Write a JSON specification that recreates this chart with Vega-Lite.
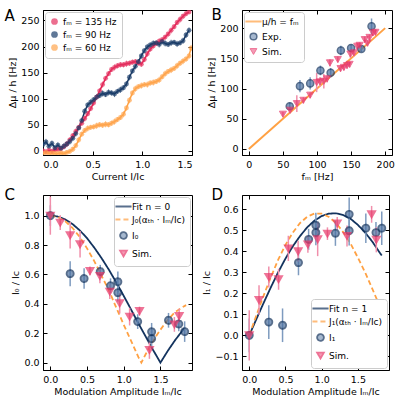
{
"$schema": "https://vega.github.io/schema/vega-lite/v6.json",
"background": "white",
"padding": {"left": 3, "top": 7, "right": 0, "bottom": 0},
"columns": 2,
"align": "each",
"spacing": {"row": 40, "column": 50},
"bounds": "flush",
"resolve": {"scale": {"x": "independent", "y": "independent", "color": "independent", "fill": "independent", "stroke": "independent", "shape": "independent", "strokeDash": "independent", "strokeWidth": "independent"}},
"config": {
  "font": "DejaVu Sans",
  "view": {"stroke": "#000", "strokeWidth": 1},
  "axis": {"grid": false, "domainColor": "#000", "tickColor": "#000", "labelColor": "#000", "titleColor": "#000", "labelFont": "DejaVu Sans", "titleFont": "DejaVu Sans", "labelFontSize": 9.5, "titleFontSize": 9.5, "titleFontWeight": "normal", "tickSize": -4, "labelPadding": 8, "titlePadding": 3, "domainWidth": 1, "tickWidth": 1},
  "legend": {"labelFont": "DejaVu Sans", "labelFontSize": 9, "labelColor": "#000", "fillColor": "#ffffff", "strokeColor": "#cccccc", "cornerRadius": 3, "padding": 5, "rowPadding": 3, "symbolSize": 45, "symbolStrokeWidth": 1}
},
"datasets": {
  "a": [
    {"s":"r","x":0,"y":0,"e":5},{"s":"r","x":0.03,"y":-2,"e":5},{"s":"r","x":0.06,"y":1,"e":4},{"s":"r","x":0.09,"y":-1,"e":5},{"s":"r","x":0.12,"y":2,"e":5},{"s":"r","x":0.15,"y":3,"e":4},{"s":"r","x":0.18,"y":4,"e":5},{"s":"r","x":0.21,"y":8,"e":5},{"s":"r","x":0.24,"y":13,"e":6},{"s":"r","x":0.27,"y":21,"e":5},{"s":"r","x":0.3,"y":29,"e":5},{"s":"r","x":0.33,"y":37,"e":6},{"s":"r","x":0.36,"y":45,"e":5},{"s":"r","x":0.39,"y":53,"e":5},{"s":"r","x":0.42,"y":62,"e":6},{"s":"r","x":0.45,"y":71,"e":5},{"s":"r","x":0.48,"y":81,"e":5},{"s":"r","x":0.51,"y":92,"e":6},{"s":"r","x":0.54,"y":103,"e":5},{"s":"r","x":0.57,"y":115,"e":5},{"s":"r","x":0.6,"y":127,"e":6},{"s":"r","x":0.63,"y":139,"e":5},{"s":"r","x":0.66,"y":148,"e":5},{"s":"r","x":0.69,"y":156,"e":5},{"s":"r","x":0.72,"y":160,"e":6},{"s":"r","x":0.75,"y":163,"e":5},{"s":"r","x":0.78,"y":165,"e":5},{"s":"r","x":0.81,"y":165,"e":5},{"s":"r","x":0.84,"y":167,"e":6},{"s":"r","x":0.87,"y":168,"e":5},{"s":"r","x":0.9,"y":170,"e":5},{"s":"r","x":0.93,"y":171,"e":5},{"s":"r","x":0.96,"y":169,"e":6},{"s":"r","x":0.99,"y":166,"e":5},{"s":"r","x":1.02,"y":175,"e":5},{"s":"r","x":1.05,"y":186,"e":6},{"s":"r","x":1.08,"y":195,"e":5},{"s":"r","x":1.11,"y":201,"e":5},{"s":"r","x":1.14,"y":206,"e":5},{"s":"r","x":1.17,"y":210,"e":6},{"s":"r","x":1.2,"y":213,"e":5},{"s":"r","x":1.23,"y":218,"e":5},{"s":"r","x":1.26,"y":224,"e":5},{"s":"r","x":1.29,"y":231,"e":6},{"s":"r","x":1.32,"y":238,"e":5},{"s":"r","x":1.35,"y":246,"e":5},{"s":"r","x":1.38,"y":252,"e":6},{"s":"r","x":1.41,"y":258,"e":5},{"s":"r","x":1.44,"y":263,"e":5},{"s":"r","x":1.47,"y":266,"e":3},
    {"s":"b","x":0,"y":12,"e":6},{"s":"b","x":0.03,"y":17,"e":6},{"s":"b","x":0.06,"y":9,"e":5},{"s":"b","x":0.09,"y":14,"e":6},{"s":"b","x":0.12,"y":6,"e":5},{"s":"b","x":0.15,"y":11,"e":6},{"s":"b","x":0.18,"y":5,"e":5},{"s":"b","x":0.21,"y":9,"e":6},{"s":"b","x":0.24,"y":13,"e":5},{"s":"b","x":0.27,"y":18,"e":6},{"s":"b","x":0.3,"y":24,"e":5},{"s":"b","x":0.33,"y":33,"e":6},{"s":"b","x":0.36,"y":44,"e":5},{"s":"b","x":0.39,"y":58,"e":6},{"s":"b","x":0.42,"y":76,"e":6},{"s":"b","x":0.45,"y":88,"e":5},{"s":"b","x":0.48,"y":93,"e":6},{"s":"b","x":0.51,"y":98,"e":5},{"s":"b","x":0.54,"y":103,"e":6},{"s":"b","x":0.57,"y":106,"e":5},{"s":"b","x":0.6,"y":110,"e":6},{"s":"b","x":0.63,"y":108,"e":5},{"s":"b","x":0.66,"y":112,"e":6},{"s":"b","x":0.69,"y":111,"e":5},{"s":"b","x":0.72,"y":109,"e":6},{"s":"b","x":0.75,"y":114,"e":5},{"s":"b","x":0.78,"y":117,"e":6},{"s":"b","x":0.81,"y":121,"e":5},{"s":"b","x":0.84,"y":128,"e":6},{"s":"b","x":0.87,"y":141,"e":6},{"s":"b","x":0.9,"y":153,"e":5},{"s":"b","x":0.93,"y":162,"e":6},{"s":"b","x":0.96,"y":171,"e":5},{"s":"b","x":0.99,"y":182,"e":6},{"s":"b","x":1.02,"y":192,"e":5},{"s":"b","x":1.05,"y":199,"e":6},{"s":"b","x":1.08,"y":203,"e":5},{"s":"b","x":1.11,"y":206,"e":6},{"s":"b","x":1.14,"y":207,"e":5},{"s":"b","x":1.17,"y":204,"e":6},{"s":"b","x":1.2,"y":209,"e":5},{"s":"b","x":1.23,"y":206,"e":6},{"s":"b","x":1.26,"y":204,"e":5},{"s":"b","x":1.29,"y":207,"e":6},{"s":"b","x":1.32,"y":208,"e":5},{"s":"b","x":1.35,"y":205,"e":6},{"s":"b","x":1.38,"y":207,"e":5},{"s":"b","x":1.41,"y":211,"e":6},{"s":"b","x":1.44,"y":222,"e":6},{"s":"b","x":1.47,"y":231,"e":6},
    {"s":"o","x":0,"y":-5,"e":2},{"s":"o","x":0.03,"y":-3,"e":3},{"s":"o","x":0.06,"y":-5,"e":2},{"s":"o","x":0.09,"y":-4,"e":3},{"s":"o","x":0.12,"y":-5,"e":2},{"s":"o","x":0.15,"y":-5,"e":2},{"s":"o","x":0.18,"y":-4,"e":3},{"s":"o","x":0.21,"y":-5,"e":2},{"s":"o","x":0.24,"y":-3,"e":4},{"s":"o","x":0.27,"y":-1,"e":5},{"s":"o","x":0.3,"y":3,"e":5},{"s":"o","x":0.33,"y":10,"e":5},{"s":"o","x":0.36,"y":21,"e":6},{"s":"o","x":0.39,"y":32,"e":5},{"s":"o","x":0.42,"y":39,"e":5},{"s":"o","x":0.45,"y":43,"e":6},{"s":"o","x":0.48,"y":45,"e":5},{"s":"o","x":0.51,"y":46,"e":5},{"s":"o","x":0.54,"y":48,"e":6},{"s":"o","x":0.57,"y":50,"e":5},{"s":"o","x":0.6,"y":49,"e":5},{"s":"o","x":0.63,"y":51,"e":6},{"s":"o","x":0.66,"y":50,"e":5},{"s":"o","x":0.69,"y":53,"e":5},{"s":"o","x":0.72,"y":56,"e":6},{"s":"o","x":0.75,"y":60,"e":5},{"s":"o","x":0.78,"y":64,"e":5},{"s":"o","x":0.81,"y":70,"e":6},{"s":"o","x":0.84,"y":82,"e":5},{"s":"o","x":0.87,"y":97,"e":6},{"s":"o","x":0.9,"y":111,"e":5},{"s":"o","x":0.93,"y":119,"e":6},{"s":"o","x":0.96,"y":123,"e":5},{"s":"o","x":0.99,"y":125,"e":6},{"s":"o","x":1.02,"y":127,"e":5},{"s":"o","x":1.05,"y":127,"e":6},{"s":"o","x":1.08,"y":130,"e":5},{"s":"o","x":1.11,"y":131,"e":6},{"s":"o","x":1.14,"y":133,"e":5},{"s":"o","x":1.17,"y":136,"e":6},{"s":"o","x":1.2,"y":142,"e":5},{"s":"o","x":1.23,"y":148,"e":6},{"s":"o","x":1.26,"y":152,"e":5},{"s":"o","x":1.29,"y":155,"e":6},{"s":"o","x":1.32,"y":158,"e":5},{"s":"o","x":1.35,"y":163,"e":6},{"s":"o","x":1.38,"y":168,"e":5},{"s":"o","x":1.41,"y":172,"e":6},{"s":"o","x":1.44,"y":176,"e":5},{"s":"o","x":1.47,"y":182,"e":6},{"s":"o","x":1.49,"y":197,"e":6}
  ],
  "bl": [{"s":"l","x":0,"y":0},{"s":"l","x":200,"y":200}],
  "b": [
    {"s":"e","x":60,"y":70.7,"e":6},{"s":"e","x":75,"y":104,"e":10},{"s":"e","x":90,"y":108.5,"e":10},{"s":"e","x":105,"y":130,"e":8},{"s":"e","x":120,"y":126,"e":8},{"s":"e","x":135,"y":163,"e":8},{"s":"e","x":150,"y":167,"e":6},{"s":"e","x":165,"y":165.5,"e":5},{"s":"e","x":180,"y":203,"e":13},
    {"s":"s","x":50,"y":57.5,"e":4},{"s":"s","x":60.6,"y":64,"e":5},{"s":"s","x":70.4,"y":75,"e":14},{"s":"s","x":80,"y":80.5,"e":5},{"s":"s","x":90,"y":89,"e":5},{"s":"s","x":99.5,"y":110,"e":16},{"s":"s","x":104.4,"y":111,"e":8},{"s":"s","x":110,"y":112,"e":12},{"s":"s","x":114.8,"y":116,"e":6},{"s":"s","x":119,"y":142.5,"e":6},{"s":"s","x":130.5,"y":148,"e":5},{"s":"s","x":134.5,"y":133,"e":5},{"s":"s","x":139.4,"y":135,"e":5},{"s":"s","x":144,"y":138,"e":5},{"s":"s","x":147.8,"y":140,"e":5},{"s":"s","x":149,"y":157,"e":6},{"s":"s","x":154,"y":159,"e":6},{"s":"s","x":159,"y":170,"e":5},{"s":"s","x":162.5,"y":171.5,"e":5},{"s":"s","x":170,"y":181,"e":5},{"s":"s","x":174,"y":175,"e":5},{"s":"s","x":177,"y":184.6,"e":5},{"s":"s","x":182,"y":192,"e":5},{"s":"s","x":185.7,"y":193,"e":5}
  ],
  "cl": [
    {"s":"f","x":0,"y":1},{"s":"f","x":0.1,"y":0.9936},{"s":"f","x":0.2,"y":0.9746},{"s":"f","x":0.3,"y":0.9432},{"s":"f","x":0.4,"y":0.9},{"s":"f","x":0.5,"y":0.8463},{"s":"f","x":0.6,"y":0.781},{"s":"f","x":0.7,"y":0.709},{"s":"f","x":0.8,"y":0.63},{"s":"f","x":0.9,"y":0.544},{"s":"f","x":1.0,"y":0.4537},{"s":"f","x":1.1,"y":0.361},{"s":"f","x":1.2,"y":0.267},{"s":"f","x":1.3,"y":0.177},{"s":"f","x":1.4,"y":0.086},{"s":"f","x":1.5,"y":0},{"s":"f","x":1.6,"y":0.08},{"s":"f","x":1.7,"y":0.153},{"s":"f","x":1.8,"y":0.218},{"s":"f","x":1.83,"y":0.236},
    {"s":"j","x":0,"y":1},{"s":"j","x":0.1,"y":0.9906},{"s":"j","x":0.2,"y":0.9627},{"s":"j","x":0.3,"y":0.917},{"s":"j","x":0.4,"y":0.855},{"s":"j","x":0.5,"y":0.777},{"s":"j","x":0.6,"y":0.689},{"s":"j","x":0.7,"y":0.589},{"s":"j","x":0.8,"y":0.489},{"s":"j","x":0.9,"y":0.372},{"s":"j","x":1.0,"y":0.258},{"s":"j","x":1.1,"y":0.148},{"s":"j","x":1.2,"y":0.037},{"s":"j","x":1.24,"y":0},{"s":"j","x":1.3,"y":0.059},{"s":"j","x":1.4,"y":0.149},{"s":"j","x":1.5,"y":0.224},{"s":"j","x":1.6,"y":0.292},{"s":"j","x":1.7,"y":0.344},{"s":"j","x":1.8,"y":0.377},{"s":"j","x":1.85,"y":0.391}
  ],
  "c": [
    {"s":"e","x":0,"y":1.0,"e":0.07},{"s":"e","x":0.27,"y":0.605,"e":0.085},{"s":"e","x":0.46,"y":0.572,"e":0.07},{"s":"e","x":0.68,"y":0.62,"e":0.045},{"s":"e","x":0.82,"y":0.523,"e":0.05},{"s":"e","x":0.92,"y":0.55,"e":0.07},{"s":"e","x":0.92,"y":0.476,"e":0.06},{"s":"e","x":1.19,"y":0.279,"e":0.05},{"s":"e","x":1.38,"y":0.21,"e":0.06},{"s":"e","x":1.38,"y":0.163,"e":0.06},{"s":"e","x":1.61,"y":0.288,"e":0.05},{"s":"e","x":1.75,"y":0.263,"e":0.05},{"s":"e","x":1.83,"y":0.211,"e":0.07},
    {"s":"s","x":0,"y":1.0,"e":0.13},{"s":"s","x":0.135,"y":0.952,"e":0.05},{"s":"s","x":0.27,"y":0.866,"e":0.09},{"s":"s","x":0.405,"y":0.805,"e":0.09},{"s":"s","x":0.54,"y":0.624,"e":0.03},{"s":"s","x":0.675,"y":0.59,"e":0.05},{"s":"s","x":0.81,"y":0.483,"e":0.05},{"s":"s","x":0.945,"y":0.404,"e":0.07},{"s":"s","x":1.08,"y":0.313,"e":0.06},{"s":"s","x":1.215,"y":0.351,"e":0.03},{"s":"s","x":1.35,"y":0.086,"e":0.06},{"s":"s","x":1.69,"y":0.26,"e":0.05},{"s":"s","x":1.755,"y":0.317,"e":0.05}
  ],
  "dl": [
    {"s":"f","x":0,"y":0},{"s":"f","x":0.1,"y":0.0785},{"s":"f","x":0.2,"y":0.1554},{"s":"f","x":0.3,"y":0.23},{"s":"f","x":0.4,"y":0.3006},{"s":"f","x":0.5,"y":0.365},{"s":"f","x":0.6,"y":0.423},{"s":"f","x":0.7,"y":0.472},{"s":"f","x":0.8,"y":0.514},{"s":"f","x":0.9,"y":0.546},{"s":"f","x":1.0,"y":0.5677},{"s":"f","x":1.1,"y":0.5795},{"s":"f","x":1.2,"y":0.5807},{"s":"f","x":1.3,"y":0.572},{"s":"f","x":1.4,"y":0.5545},{"s":"f","x":1.5,"y":0.526},{"s":"f","x":1.6,"y":0.4895},{"s":"f","x":1.7,"y":0.4458},{"s":"f","x":1.8,"y":0.3945},{"s":"f","x":1.83,"y":0.38},
    {"s":"j","x":0,"y":0},{"s":"j","x":0.1,"y":0.0965},{"s":"j","x":0.2,"y":0.1903},{"s":"j","x":0.3,"y":0.2785},{"s":"j","x":0.4,"y":0.36},{"s":"j","x":0.5,"y":0.4302},{"s":"j","x":0.6,"y":0.4883},{"s":"j","x":0.7,"y":0.534},{"s":"j","x":0.8,"y":0.5643},{"s":"j","x":0.9,"y":0.5795},{"s":"j","x":1.0,"y":0.5798},{"s":"j","x":1.1,"y":0.5638},{"s":"j","x":1.2,"y":0.534},{"s":"j","x":1.3,"y":0.4905},{"s":"j","x":1.4,"y":0.436},{"s":"j","x":1.5,"y":0.37},{"s":"j","x":1.6,"y":0.3},{"s":"j","x":1.7,"y":0.221},{"s":"j","x":1.8,"y":0.141},{"s":"j","x":1.83,"y":0.12}
  ],
  "d": [
    {"s":"e","x":0,"y":0.0,"e":0.08},{"s":"e","x":0.27,"y":0.063,"e":0.08},{"s":"e","x":0.46,"y":0.048,"e":0.08},{"s":"e","x":0.68,"y":0.346,"e":0.06},{"s":"e","x":0.82,"y":0.457,"e":0.05},{"s":"e","x":0.92,"y":0.489,"e":0.06},{"s":"e","x":0.92,"y":0.524,"e":0.06},{"s":"e","x":1.19,"y":0.486,"e":0.06},{"s":"e","x":1.38,"y":0.576,"e":0.08},{"s":"e","x":1.38,"y":0.498,"e":0.07},{"s":"e","x":1.61,"y":0.51,"e":0.07},{"s":"e","x":1.75,"y":0.489,"e":0.05},{"s":"e","x":1.83,"y":0.51,"e":0.08},
    {"s":"s","x":0,"y":0.0,"e":0.12},{"s":"s","x":0.135,"y":0.168,"e":0.07},{"s":"s","x":0.27,"y":0.278,"e":0.05},{"s":"s","x":0.405,"y":0.267,"e":0.05},{"s":"s","x":0.54,"y":0.414,"e":0.06},{"s":"s","x":0.675,"y":0.4,"e":0.05},{"s":"s","x":0.81,"y":0.433,"e":0.04},{"s":"s","x":0.945,"y":0.457,"e":0.08},{"s":"s","x":1.08,"y":0.484,"e":0.03},{"s":"s","x":1.215,"y":0.533,"e":0.03},{"s":"s","x":1.35,"y":0.473,"e":0.05},{"s":"s","x":1.69,"y":0.576,"e":0.04},{"s":"s","x":1.755,"y":0.455,"e":0.06}
  ]
},
"concat": [
  {
    "width": 149, "height": 145,
    "resolve": {"axis": {"x": "independent", "y": "independent"}},
    "layer": [
      {"data": {"name": "a"}, "mark": {"type": "line", "strokeWidth": 1.5, "clip": true},
       "encoding": {
         "x": {"field": "x", "type": "quantitative", "scale": {"domain": [0, 1.5], "nice": false, "zero": false}, "axis": {"values": [0, 0.5, 1, 1.5], "format": ".1f", "title": "Current I/Ic"}},
         "y": {"field": "y", "type": "quantitative", "scale": {"domain": [-8, 270], "nice": false, "zero": false}, "axis": {"values": [0, 50, 100, 150, 200, 250], "title": "Δμ / h [Hz]"}},
         "stroke": {"field": "s", "type": "nominal", "scale": {"domain": ["r", "b", "o", "zz"], "range": ["#e01e50", "#14345f", "#ffa040", "#000000"]}, "legend": null}}},
      {"data": {"name": "a"}, "mark": {"type": "errorbar", "thickness": 1, "opacity": 0.6, "clip": true},
       "encoding": {
         "x": {"field": "x", "type": "quantitative", "axis": null},
         "y": {"field": "y", "type": "quantitative", "axis": null},
         "yError": {"field": "e"},
         "color": {"field": "s", "type": "nominal", "scale": {"domain": ["r", "b", "o", "yy"], "range": ["#e4305f", "#1d3e6b", "#ffa54f", "#000000"]}, "legend": null}}},
      {"data": {"name": "a"}, "mark": {"type": "point", "filled": true, "size": 24, "opacity": 0.7, "clip": true},
       "encoding": {
         "x": {"field": "x", "type": "quantitative", "axis": null},
         "y": {"field": "y", "type": "quantitative", "axis": null},
         "fill": {"field": "s", "type": "nominal", "scale": {"domain": ["r", "b", "o"], "range": ["#e4305f", "#1d3e6b", "#ffa54f"]},
           "legend": {"title": null, "orient": "top-left", "offset": 2, "symbolType": "circle", "labelExpr": "datum.value == 'r' ? 'fₘ = 135 Hz' : datum.value == 'b' ? 'fₘ = 90 Hz' : 'fₘ = 60 Hz'"}}}},
      {"data": {"name": "bl"}, "mark": {"type": "point", "opacity": 0},
       "encoding": {
         "x": {"field": "x", "type": "quantitative", "axis": {"orient": "top", "labels": false, "domain": false, "values": [0, 0.5, 1, 1.5], "title": "A", "titleX": -39, "titleY": 10.3, "titleAlign": "left", "titleAnchor": null, "titleBaseline": "alphabetic", "titleFontSize": 15, "titleAngle": 0}},
         "y": {"field": "y", "type": "quantitative", "axis": {"orient": "right", "labels": false, "title": null, "domain": false, "values": [0, 50, 100, 150, 200, 250]}}}}
    ]
  },
  {
    "width": 150, "height": 145,
    "resolve": {"axis": {"x": "independent", "y": "independent"}},
    "layer": [
      {"data": {"name": "bl"}, "mark": {"type": "line", "strokeWidth": 2},
       "encoding": {
         "x": {"field": "x", "type": "quantitative", "scale": {"domain": [-10, 210], "nice": false, "zero": false}, "axis": {"values": [0, 50, 100, 150, 200], "title": "fₘ [Hz]"}},
         "y": {"field": "y", "type": "quantitative", "scale": {"domain": [-10, 230], "nice": false, "zero": false}, "axis": {"values": [0, 50, 100, 150, 200], "title": "Δμ / h [Hz]"}},
         "stroke": {"field": "s", "type": "nominal", "scale": {"domain": ["l", "e", "s"], "range": ["#ffa143", "#12325c", "#e8386a"]}}}},
      {"data": {"name": "b"}, "mark": {"type": "errorbar", "thickness": 1.5},
       "encoding": {
         "x": {"field": "x", "type": "quantitative", "axis": null},
         "y": {"field": "y", "type": "quantitative", "axis": null},
         "yError": {"field": "e"},
         "color": {"field": "s", "type": "nominal", "scale": {"domain": ["e", "s"], "range": ["#7e9bbf", "#f08fab"]}, "legend": null}}},
      {"data": {"name": "b"}, "mark": {"type": "point", "filled": true, "size": 50},
       "encoding": {
         "x": {"field": "x", "type": "quantitative", "axis": null},
         "y": {"field": "y", "type": "quantitative", "axis": null},
         "shape": {"field": "s", "type": "nominal", "scale": {"domain": ["l", "e", "s"], "range": ["M-2.4,0L2.4,0", "circle", "triangle-down"]},
           "legend": {"title": null, "orient": "top-left", "offset": 2, "labelExpr": "datum.value == 'l' ? 'μ/h = fₘ' : datum.value == 'e' ? 'Exp.' : 'Sim.'"}},
         "fill": {"field": "s", "type": "nominal", "scale": {"domain": ["l", "e", "s"], "range": ["#ffa143", "#4b70a0", "#e8386a"]},
           "legend": {"title": null, "orient": "top-left", "offset": 2, "labelExpr": "datum.value == 'l' ? 'μ/h = fₘ' : datum.value == 'e' ? 'Exp.' : 'Sim.'"}},
         "stroke": {"field": "s", "type": "nominal",
           "legend": {"title": null, "orient": "top-left", "offset": 2, "labelExpr": "datum.value == 'l' ? 'μ/h = fₘ' : datum.value == 'e' ? 'Exp.' : 'Sim.'"}},
         "strokeWidth": {"field": "s", "type": "nominal", "scale": {"domain": ["l", "e", "s"], "range": [2, 1, 1]},
           "legend": {"title": null, "orient": "top-left", "offset": 2, "labelExpr": "datum.value == 'l' ? 'μ/h = fₘ' : datum.value == 'e' ? 'Exp.' : 'Sim.'"}}}},
      {"data": {"name": "bl"}, "mark": {"type": "point", "opacity": 0},
       "encoding": {
         "x": {"field": "x", "type": "quantitative", "axis": {"orient": "top", "labels": false, "domain": false, "values": [0, 50, 100, 150, 200], "title": "B", "titleX": -31, "titleY": 9.5, "titleAlign": "left", "titleAnchor": null, "titleBaseline": "alphabetic", "titleFontSize": 15, "titleAngle": 0}},
         "y": {"field": "y", "type": "quantitative", "axis": {"orient": "right", "labels": false, "title": null, "domain": false, "values": [0, 50, 100, 150, 200]}}}}
    ]
  },
  {
    "width": 149, "height": 175,
    "resolve": {"axis": {"x": "independent", "y": "independent"}},
    "layer": [
      {"data": {"name": "cl"}, "mark": {"type": "line"},
       "encoding": {
         "x": {"field": "x", "type": "quantitative", "scale": {"domain": [-0.1, 1.93], "nice": false, "zero": false}, "axis": {"values": [0, 0.5, 1, 1.5], "format": ".1f", "title": "Modulation Amplitude Iₘ/Ic"}},
         "y": {"field": "y", "type": "quantitative", "scale": {"domain": [-0.05, 1.14], "nice": false, "zero": false}, "axis": {"values": [0, 0.2, 0.4, 0.6, 0.8, 1], "format": ".1f", "title": "I₀ / Ic"}},
         "stroke": {"field": "s", "type": "nominal", "scale": {"domain": ["f", "j", "e", "s"], "range": ["#13335e", "#ffa143", "#12325c", "#e8386a"]}},
         "strokeDash": {"field": "s", "type": "nominal", "scale": {"domain": ["f", "j", "e", "s"], "range": [[1, 0], [5, 3], [1, 0], [1, 0]]}},
         "strokeWidth": {"field": "s", "type": "nominal", "scale": {"domain": ["f", "j", "e", "s"], "range": [1.8, 1.8, 1, 1]}}}},
      {"data": {"name": "c"}, "mark": {"type": "errorbar", "thickness": 1.5},
       "encoding": {
         "x": {"field": "x", "type": "quantitative", "axis": null},
         "y": {"field": "y", "type": "quantitative", "axis": null},
         "yError": {"field": "e"},
         "color": {"field": "s", "type": "nominal", "scale": {"domain": ["e", "s"], "range": ["#7e9bbf", "#f08fab"]}, "legend": null}}},
      {"data": {"name": "c"}, "mark": {"type": "point", "filled": true, "size": 50},
       "encoding": {
         "x": {"field": "x", "type": "quantitative", "axis": null},
         "y": {"field": "y", "type": "quantitative", "axis": null},
         "shape": {"field": "s", "type": "nominal", "scale": {"domain": ["f", "j", "e", "s"], "range": ["M-2.4,0L2.4,0", "M-2.4,0L2.4,0", "circle", "triangle-down"]},
           "legend": {"title": null, "orient": "top-right", "offset": 2, "labelExpr": "datum.value == 'f' ? 'Fit n = 0' : datum.value == 'j' ? 'J₀(αₜₕ · Iₘ/Ic)' : datum.value == 'e' ? 'I₀' : 'Sim.'"}},
         "fill": {"field": "s", "type": "nominal", "scale": {"domain": ["f", "j", "e", "s"], "range": ["#13335e", "#ffa143", "#4b70a0", "#e8386a"]},
           "legend": {"title": null, "orient": "top-right", "offset": 2, "labelExpr": "datum.value == 'f' ? 'Fit n = 0' : datum.value == 'j' ? 'J₀(αₜₕ · Iₘ/Ic)' : datum.value == 'e' ? 'I₀' : 'Sim.'"}},
         "stroke": {"field": "s", "type": "nominal",
           "legend": {"title": null, "orient": "top-right", "offset": 2, "labelExpr": "datum.value == 'f' ? 'Fit n = 0' : datum.value == 'j' ? 'J₀(αₜₕ · Iₘ/Ic)' : datum.value == 'e' ? 'I₀' : 'Sim.'"}},
         "strokeDash": {"field": "s", "type": "nominal",
           "legend": {"title": null, "orient": "top-right", "offset": 2, "labelExpr": "datum.value == 'f' ? 'Fit n = 0' : datum.value == 'j' ? 'J₀(αₜₕ · Iₘ/Ic)' : datum.value == 'e' ? 'I₀' : 'Sim.'"}},
         "strokeWidth": {"field": "s", "type": "nominal",
           "legend": {"title": null, "orient": "top-right", "offset": 2, "labelExpr": "datum.value == 'f' ? 'Fit n = 0' : datum.value == 'j' ? 'J₀(αₜₕ · Iₘ/Ic)' : datum.value == 'e' ? 'I₀' : 'Sim.'"}}}},
      {"data": {"name": "cl"}, "mark": {"type": "point", "opacity": 0},
       "encoding": {
         "x": {"field": "x", "type": "quantitative", "axis": {"orient": "top", "labels": false, "domain": false, "values": [0, 0.5, 1, 1.5], "title": "C", "titleX": -39, "titleY": 4.3, "titleAlign": "left", "titleAnchor": null, "titleBaseline": "alphabetic", "titleFontSize": 15, "titleAngle": 0}},
         "y": {"field": "y", "type": "quantitative", "axis": {"orient": "right", "labels": false, "title": null, "domain": false, "values": [0, 0.2, 0.4, 0.6, 0.8, 1]}}}}
    ]
  },
  {
    "width": 147, "height": 175,
    "resolve": {"axis": {"x": "independent", "y": "independent"}},
    "layer": [
      {"data": {"name": "dl"}, "mark": {"type": "line"},
       "encoding": {
         "x": {"field": "x", "type": "quantitative", "scale": {"domain": [-0.1, 1.93], "nice": false, "zero": false}, "axis": {"values": [0, 0.5, 1, 1.5], "format": ".1f", "title": "Modulation Amplitude Iₘ/Ic"}},
         "y": {"field": "y", "type": "quantitative", "scale": {"domain": [-0.165, 0.668], "nice": false, "zero": false}, "axis": {"values": [-0.1, 0, 0.1, 0.2, 0.3, 0.4, 0.5, 0.6], "format": ".1f", "title": "I₁ / Ic"}},
         "stroke": {"field": "s", "type": "nominal", "scale": {"domain": ["f", "j", "e", "s"], "range": ["#13335e", "#ffa143", "#12325c", "#e8386a"]}},
         "strokeDash": {"field": "s", "type": "nominal", "scale": {"domain": ["f", "j", "e", "s"], "range": [[1, 0], [5, 3], [1, 0], [1, 0]]}},
         "strokeWidth": {"field": "s", "type": "nominal", "scale": {"domain": ["f", "j", "e", "s"], "range": [1.8, 1.8, 1, 1]}}}},
      {"data": {"name": "d"}, "mark": {"type": "errorbar", "thickness": 1.5},
       "encoding": {
         "x": {"field": "x", "type": "quantitative", "axis": null},
         "y": {"field": "y", "type": "quantitative", "axis": null},
         "yError": {"field": "e"},
         "color": {"field": "s", "type": "nominal", "scale": {"domain": ["e", "s"], "range": ["#7e9bbf", "#f08fab"]}, "legend": null}}},
      {"data": {"name": "d"}, "mark": {"type": "point", "filled": true, "size": 50},
       "encoding": {
         "x": {"field": "x", "type": "quantitative", "axis": null},
         "y": {"field": "y", "type": "quantitative", "axis": null},
         "shape": {"field": "s", "type": "nominal", "scale": {"domain": ["f", "j", "e", "s"], "range": ["M-2.4,0L2.4,0", "M-2.4,0L2.4,0", "circle", "triangle-down"]},
           "legend": {"title": null, "orient": "bottom-right", "offset": 2, "labelExpr": "datum.value == 'f' ? 'Fit n = 1' : datum.value == 'j' ? 'J₁(αₜₕ · Iₘ/Ic)' : datum.value == 'e' ? 'I₁' : 'Sim.'"}},
         "fill": {"field": "s", "type": "nominal", "scale": {"domain": ["f", "j", "e", "s"], "range": ["#13335e", "#ffa143", "#4b70a0", "#e8386a"]},
           "legend": {"title": null, "orient": "bottom-right", "offset": 2, "labelExpr": "datum.value == 'f' ? 'Fit n = 1' : datum.value == 'j' ? 'J₁(αₜₕ · Iₘ/Ic)' : datum.value == 'e' ? 'I₁' : 'Sim.'"}},
         "stroke": {"field": "s", "type": "nominal",
           "legend": {"title": null, "orient": "bottom-right", "offset": 2, "labelExpr": "datum.value == 'f' ? 'Fit n = 1' : datum.value == 'j' ? 'J₁(αₜₕ · Iₘ/Ic)' : datum.value == 'e' ? 'I₁' : 'Sim.'"}},
         "strokeDash": {"field": "s", "type": "nominal",
           "legend": {"title": null, "orient": "bottom-right", "offset": 2, "labelExpr": "datum.value == 'f' ? 'Fit n = 1' : datum.value == 'j' ? 'J₁(αₜₕ · Iₘ/Ic)' : datum.value == 'e' ? 'I₁' : 'Sim.'"}},
         "strokeWidth": {"field": "s", "type": "nominal",
           "legend": {"title": null, "orient": "bottom-right", "offset": 2, "labelExpr": "datum.value == 'f' ? 'Fit n = 1' : datum.value == 'j' ? 'J₁(αₜₕ · Iₘ/Ic)' : datum.value == 'e' ? 'I₁' : 'Sim.'"}}}},
      {"data": {"name": "dl"}, "mark": {"type": "point", "opacity": 0},
       "encoding": {
         "x": {"field": "x", "type": "quantitative", "axis": {"orient": "top", "labels": false, "domain": false, "values": [0, 0.5, 1, 1.5], "title": "D", "titleX": -31, "titleY": 4.3, "titleAlign": "left", "titleAnchor": null, "titleBaseline": "alphabetic", "titleFontSize": 15, "titleAngle": 0}},
         "y": {"field": "y", "type": "quantitative", "axis": {"orient": "right", "labels": false, "title": null, "domain": false, "values": [-0.1, 0, 0.1, 0.2, 0.3, 0.4, 0.5, 0.6]}}}}
    ]
  }
]
}
